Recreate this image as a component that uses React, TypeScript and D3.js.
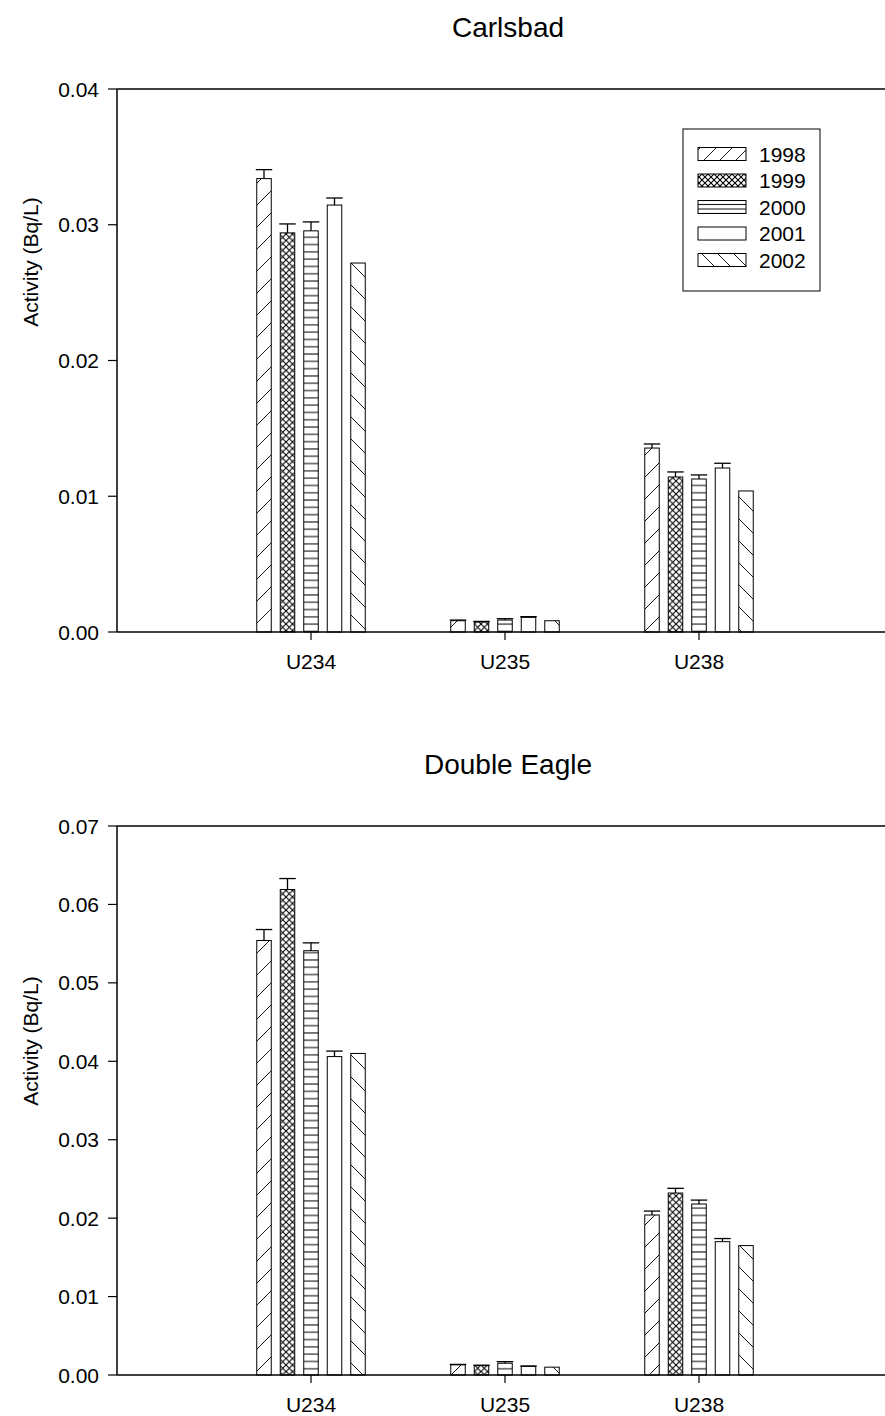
import { useMemo } from "react";
import * as d3 from "d3";

const WIDTH = 885;
const HEIGHT = 1416;
const FONT = "'Liberation Sans', Arial, sans-serif";

const categories = ["U234", "U235", "U238"];
const years = ["1998", "1999", "2000", "2001", "2002"];

// Carlsbad, one array per year: [U234, U235, U238]
const carlsbad1998 = [0.0334, 0.00083, 0.01355];
const carlsbad1999 = [0.0294, 0.00074, 0.01142];
const carlsbad2000 = [0.02955, 0.00088, 0.01127];
const carlsbad2001 = [0.03145, 0.00108, 0.01208];
const carlsbad2002 = [0.02718, 0.00083, 0.01039];
const carlsbadErr1998 = [0.00066, 0.00005, 0.0003];
const carlsbadErr1999 = [0.00066, 0.00004, 0.00037];
const carlsbadErr2000 = [0.00066, 0.0001, 0.0003];
const carlsbadErr2001 = [0.00052, 0.00005, 0.00035];
const carlsbadErr2002 = [0, 0, 0];

// Double Eagle
const eagle1998 = [0.0554, 0.0013, 0.0204];
const eagle1999 = [0.0619, 0.0012, 0.0232];
const eagle2000 = [0.0541, 0.0015, 0.0218];
const eagle2001 = [0.0406, 0.0011, 0.017];
const eagle2002 = [0.041, 0.001, 0.0165];
const eagleErr1998 = [0.0014, 0.00005, 0.0005];
const eagleErr1999 = [0.0014, 0.00005, 0.0006];
const eagleErr2000 = [0.001, 0.0002, 0.0005];
const eagleErr2001 = [0.0007, 0.00005, 0.0004];
const eagleErr2002 = [0, 0, 0];

const carlsbadTicks = [0, 0.01, 0.02, 0.03, 0.04];
const eagleTicks = [0, 0.01, 0.02, 0.03, 0.04, 0.05, 0.06, 0.07];

type Panel = {
  title: string;
  values: number[][];
  errors: number[][];
  ticks: number[];
  top: number;
  bottom: number;
  labelY: number;
};

const panels: Panel[] = [
  {
    title: "Carlsbad",
    values: [carlsbad1998, carlsbad1999, carlsbad2000, carlsbad2001, carlsbad2002],
    errors: [carlsbadErr1998, carlsbadErr1999, carlsbadErr2000, carlsbadErr2001, carlsbadErr2002],
    ticks: carlsbadTicks,
    top: 89,
    bottom: 632,
    labelY: 262,
  },
  {
    title: "Double Eagle",
    values: [eagle1998, eagle1999, eagle2000, eagle2001, eagle2002],
    errors: [eagleErr1998, eagleErr1999, eagleErr2000, eagleErr2001, eagleErr2002],
    ticks: eagleTicks,
    top: 826,
    bottom: 1375,
    labelY: 1041,
  },
];

const LEFT = 117;
const fillFor = (i: number, legend = false) => {
  const p = legend ? "lg" : "bar";
  return ["url(#" + p + "-fwd)", "url(#" + p + "-cross)", "url(#" + p + "-horiz)", "white", "url(#" + p + "-back)"][i];
};

const Patterns = ({ prefix, diag, horiz, cross }: { prefix: string; diag: number; horiz: number; cross: number }) => (
  <>
    <pattern id={prefix + "-fwd"} patternUnits="userSpaceOnUse" width={diag} height={diag}>
      <rect width={diag} height={diag} fill="white" />
      <path
        d={`M0,${diag} L${diag},0 M${-diag / 2},${diag / 2} L${diag / 2},${-diag / 2} M${diag / 2},${diag * 1.5} L${diag * 1.5},${diag / 2}`}
        stroke="black"
        strokeWidth={0.9}
      />
    </pattern>
    <pattern id={prefix + "-back"} patternUnits="userSpaceOnUse" width={diag} height={diag}>
      <rect width={diag} height={diag} fill="white" />
      <path
        d={`M0,0 L${diag},${diag} M${-diag / 2},${diag / 2} L${diag / 2},${diag * 1.5} M${diag / 2},${-diag / 2} L${diag * 1.5},${diag / 2}`}
        stroke="black"
        strokeWidth={0.9}
      />
    </pattern>
    <pattern id={prefix + "-horiz"} patternUnits="userSpaceOnUse" width={10} height={horiz}>
      <rect width={10} height={horiz} fill="white" />
      <line x1={0} x2={10} y1={horiz / 2} y2={horiz / 2} stroke="black" strokeWidth={1} />
    </pattern>
    <pattern id={prefix + "-cross"} patternUnits="userSpaceOnUse" width={cross} height={cross}>
      <rect width={cross} height={cross} fill="white" />
      <path
        d={`M0,0 L${cross},${cross} M0,${cross} L${cross},0`}
        stroke="black"
        strokeWidth={1.1}
      />
    </pattern>
  </>
);

const ChartPanel = ({ panel }: { panel: Panel }) => {
  const x = d3.scaleLinear().domain([0, 4]).range([LEFT, LEFT + 776]);
  const y = d3
    .scaleLinear()
    .domain([0, panel.ticks[panel.ticks.length - 1]])
    .range([panel.bottom, panel.top]);
  const offset = d3
    .scaleBand()
    .domain(years)
    .range([-58.75, 58.75])
    .paddingInner(0.383)
    .paddingOuter(0.383 / 2);
  const bw = offset.bandwidth();
  const fmt = d3.format(".2f");

  return (
    <g>
      <text x={508} y={panel.top - 52} textAnchor="middle" fontSize={28} fontFamily={FONT}>
        {panel.title}
      </text>
      <text
        transform={`translate(38,${panel.labelY}) rotate(-90)`}
        textAnchor="middle"
        fontSize={21}
        fontFamily={FONT}
      >
        Activity (Bq/L)
      </text>

      {/* bars */}
      {years.map((yr, s) =>
        categories.map((c, ci) => {
          const v = panel.values[s][ci];
          const e = panel.errors[s][ci];
          const bx = x(ci + 1) + (offset(yr) as number);
          const cx = bx + bw / 2;
          return (
            <g key={yr + c}>
              <rect
                x={bx}
                y={y(v)}
                width={bw}
                height={y(0) - y(v)}
                fill={fillFor(s)}
                stroke="black"
                strokeWidth={1}
              />
              {e > 0 && (
                <g stroke="black" strokeWidth={1.3}>
                  <line x1={cx} x2={cx} y1={y(v)} y2={y(v + e)} />
                  <line x1={cx - bw / 2 - 1} x2={cx + bw / 2 + 1} y1={y(v + e)} y2={y(v + e)} />
                </g>
              )}
            </g>
          );
        })
      )}

      {/* frame */}
      <g stroke="black" strokeWidth={1.5} fill="none">
        <line x1={LEFT} x2={WIDTH} y1={panel.top} y2={panel.top} />
        <line x1={LEFT} x2={LEFT} y1={panel.top} y2={panel.bottom} />
        <line x1={LEFT} x2={WIDTH} y1={panel.bottom} y2={panel.bottom} />
      </g>

      {/* y ticks */}
      {panel.ticks.map((t) => (
        <g key={t}>
          <line x1={LEFT - 9} x2={LEFT} y1={y(t)} y2={y(t)} stroke="black" strokeWidth={1.2} />
          <text
            x={99}
            y={y(t)}
            dy="0.36em"
            textAnchor="end"
            fontSize={21}
            fontFamily={FONT}
          >
            {fmt(t)}
          </text>
        </g>
      ))}

      {/* x ticks */}
      {categories.map((c, ci) => (
        <g key={c}>
          <line x1={x(ci + 1)} x2={x(ci + 1)} y1={panel.bottom} y2={panel.bottom + 8} stroke="black" strokeWidth={1.2} />
          <text x={x(ci + 1)} y={panel.bottom + 37} textAnchor="middle" fontSize={21} fontFamily={FONT}>
            {c}
          </text>
        </g>
      ))}
    </g>
  );
};

const Legend = () => {
  const rows = d3.scaleLinear().domain([0, 4]).range([154, 260]);
  return (
    <g>
      <rect x={683} y={129} width={137} height={162} fill="white" stroke="black" strokeWidth={1} />
      {years.map((yr, i) => (
        <g key={yr}>
          <rect
            x={698}
            y={rows(i) - 6.5}
            width={48}
            height={13}
            fill={fillFor(i, true)}
            stroke="black"
            strokeWidth={1}
          />
          <text x={759} y={rows(i)} dy="0.36em" fontSize={21} fontFamily={FONT}>
            {yr}
          </text>
        </g>
      ))}
    </g>
  );
};

export default function App() {
  const content = useMemo(() => panels.map((p) => <ChartPanel key={p.title} panel={p} />), []);
  return (
    <svg
      width={WIDTH}
      height={HEIGHT}
      style={{ position: "absolute", left: 0, top: 0, background: "white" }}
    >
      <defs>
        <Patterns prefix="bar" diag={22} horiz={7.3} cross={6.5} />
        <Patterns prefix="lg" diag={16} horiz={4.4} cross={6} />
      </defs>
      <rect width={WIDTH} height={HEIGHT} fill="white" />
      {content}
      <Legend />
    </svg>
  );
}
